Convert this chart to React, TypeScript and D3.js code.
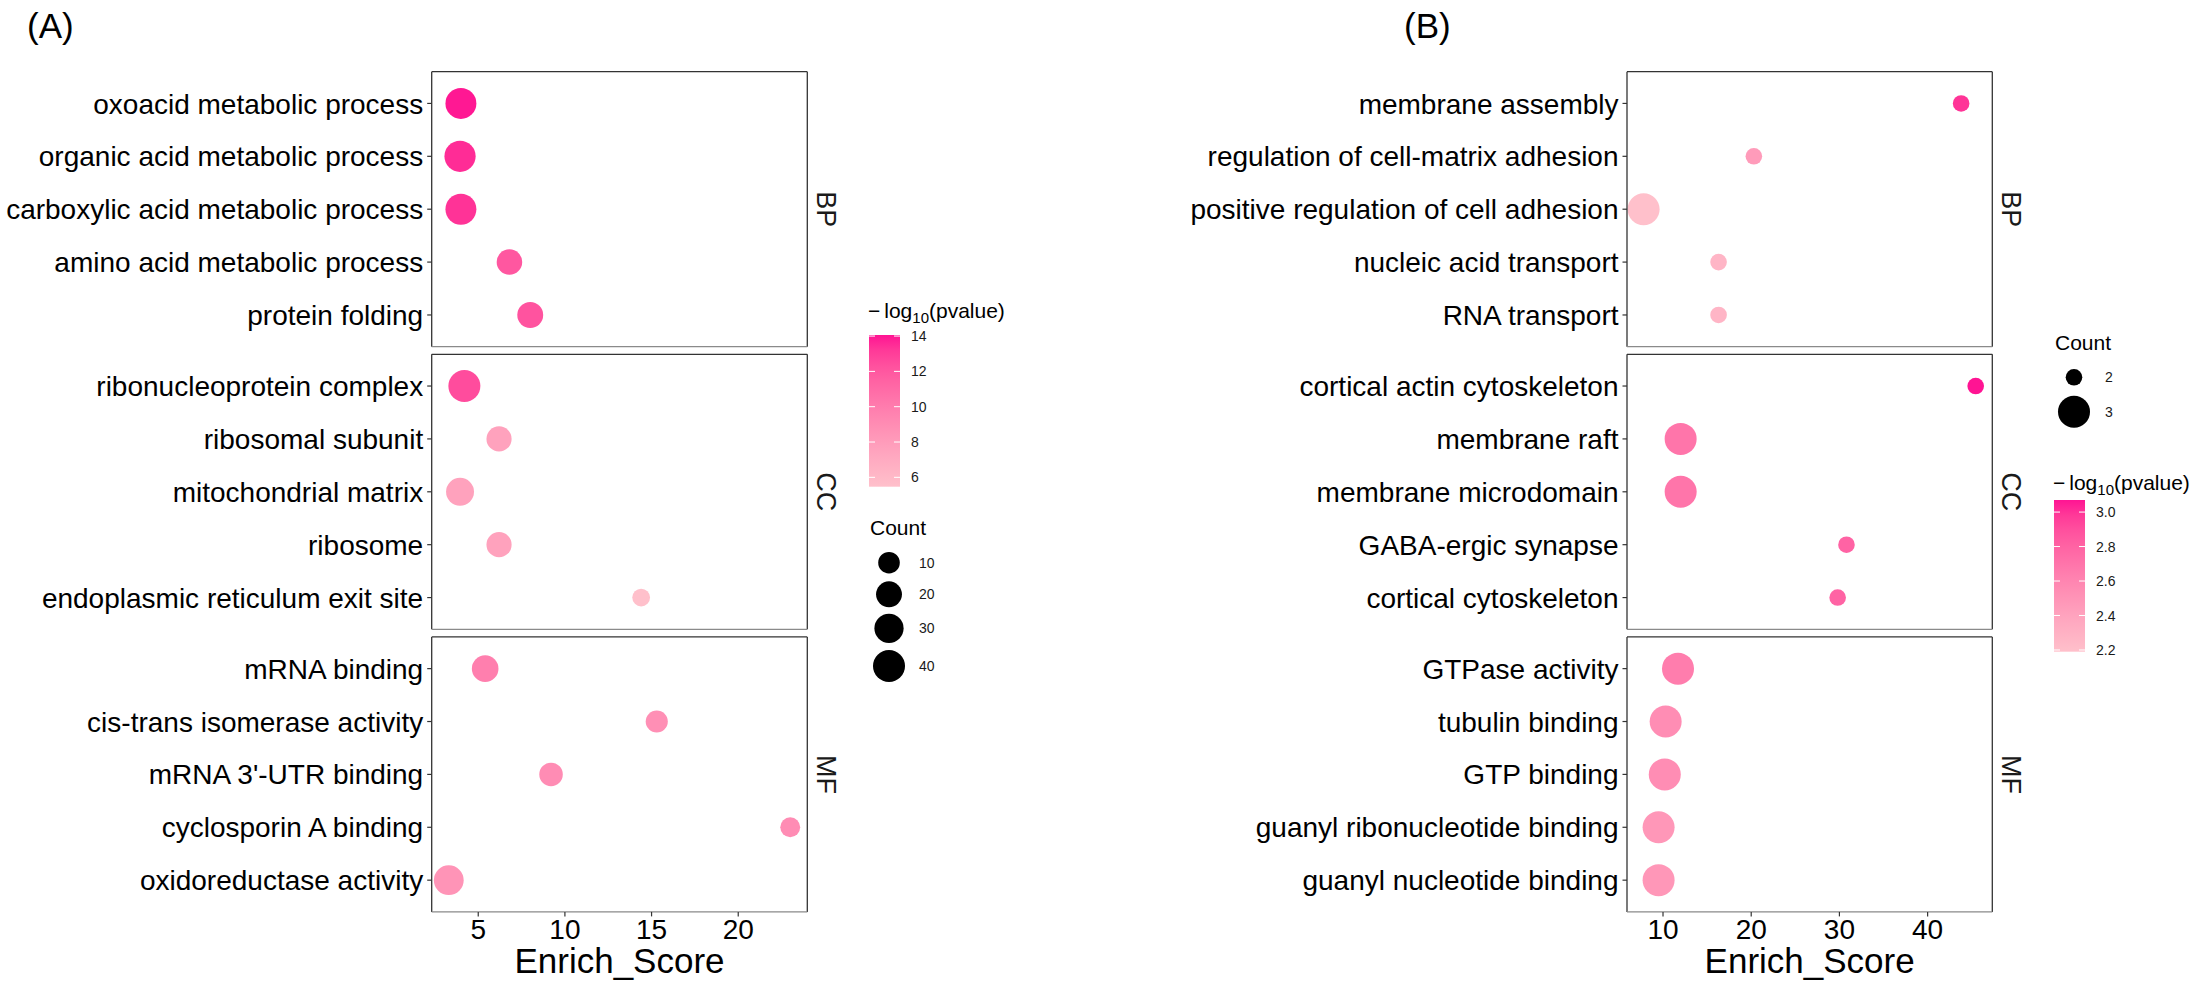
import React from 'react';
import * as d3 from 'd3';

const FACETS = ['BP', 'CC', 'MF'];

// ---------- Panel A data ----------
const A_TERMS = [
  'oxoacid metabolic process', 'organic acid metabolic process', 'carboxylic acid metabolic process',
  'amino acid metabolic process', 'protein folding',
  'ribonucleoprotein complex', 'ribosomal subunit', 'mitochondrial matrix', 'ribosome',
  'endoplasmic reticulum exit site',
  'mRNA binding', 'cis-trans isomerase activity', "mRNA 3'-UTR binding", 'cyclosporin A binding',
  'oxidoreductase activity',
];
const A_CATEGORY = ['BP', 'BP', 'BP', 'BP', 'BP', 'CC', 'CC', 'CC', 'CC', 'CC', 'MF', 'MF', 'MF', 'MF', 'MF'];
const A_ENRICH = [4.0, 3.95, 4.0, 6.8, 8.0, 4.2, 6.2, 3.95, 6.2, 14.4, 5.4, 15.3, 9.2, 23.0, 3.3];
const A_COUNT = [36, 37, 36, 19, 20, 40, 18, 26, 18, 4, 22, 11, 14, 7, 32];
const A_LOGP = [14.0, 13.6, 13.4, 12.0, 12.2, 12.5, 7.6, 7.6, 7.6, 5.5, 9.8, 8.8, 9.0, 9.0, 8.5];
const A_X_TICKS = [5, 10, 15, 20];
const A_COLOR_BREAKS = [6, 8, 10, 12, 14];
const A_COLOR_LIMITS = [5.47, 14.06];
const A_SIZE_BREAKS = [10, 20, 30, 40];

// ---------- Panel B data ----------
const B_TERMS = [
  'membrane assembly', 'regulation of cell-matrix adhesion', 'positive regulation of cell adhesion',
  'nucleic acid transport', 'RNA transport',
  'cortical actin cytoskeleton', 'membrane raft', 'membrane microdomain', 'GABA-ergic synapse',
  'cortical cytoskeleton',
  'GTPase activity', 'tubulin binding', 'GTP binding', 'guanyl ribonucleotide binding',
  'guanyl nucleotide binding',
];
const B_CATEGORY = ['BP', 'BP', 'BP', 'BP', 'BP', 'CC', 'CC', 'CC', 'CC', 'CC', 'MF', 'MF', 'MF', 'MF', 'MF'];
const B_ENRICH = [43.8, 20.3, 7.8, 16.3, 16.3, 45.45, 12.0, 12.0, 30.8, 29.8, 11.7, 10.3, 10.2, 9.5, 9.5];
const B_COUNT = [2, 2, 3, 2, 2, 2, 3, 3, 2, 2, 3, 3, 3, 3, 3];
const B_LOGP = [3.0, 2.45, 2.19, 2.27, 2.27, 3.07, 2.7, 2.7, 2.8, 2.8, 2.65, 2.55, 2.55, 2.48, 2.48];
const B_X_TICKS = [10, 20, 30, 40];
const B_COLOR_BREAKS = [2.2, 2.4, 2.6, 2.8, 3.0];
const B_COLOR_LIMITS = [2.19, 3.07];
const B_SIZE_BREAKS = [2, 3];

const FONT = 'Liberation Sans, Arial, Helvetica, sans-serif';
const LOW = '#FFC0CB';
const HIGH = '#FF1493';

const TOP = 71.7;
const PANEL_H = 275;
const GAP = 7.6;

function colorScale(limits: number[]) {
  return d3.scaleLinear<string>().domain(limits).range([LOW, HIGH]).interpolate(d3.interpolateLab).clamp(true);
}

function Panel(props: any) {
  const { left, right, terms, cats, enrich, counts, logp, xTicks, colorLimits, rScale, fmt } = props;
  const ext = d3.extent(enrich as number[]) as [number, number];
  const span = ext[1] - ext[0];
  const x = d3.scaleLinear().domain([ext[0] - 0.05 * span, ext[1] + 0.05 * span]).range([left, right]);
  const col = colorScale(colorLimits);
  const bottom = TOP + 3 * PANEL_H + 2 * GAP;
  return (
    <g>
      {FACETS.map((f, fi) => {
        const top = TOP + fi * (PANEL_H + GAP);
        const idx = cats.map((c: string, i: number) => (c === f ? i : -1)).filter((i: number) => i >= 0);
        const y = d3.scalePoint<string>().domain(idx.map((i: number) => terms[i])).range([top + PANEL_H, top]).padding(0.6);
        // reverse: first term at top
        const yy = d3.scalePoint<string>().domain(idx.map((i: number) => terms[i])).range([top, top + PANEL_H]).padding(0.6);
        void y;
        return (
          <g key={f}>
            <rect x={left} y={top} width={right - left} height={PANEL_H} fill="#fff" />
            {idx.map((i: number) => (
              <g key={terms[i]}>
                <line x1={left - 4.5} x2={left} y1={yy(terms[i])} y2={yy(terms[i])} stroke="#333" strokeWidth={1.2} />
                <text x={left - 8.5} y={yy(terms[i])} dy="0.36em" textAnchor="end" fontSize={28} fontFamily={FONT} fill="#000">
                  {terms[i]}
                </text>
              </g>
            ))}
            {idx.map((i: number) => (
              <circle key={'c' + i} cx={x(enrich[i])} cy={yy(terms[i])} r={rScale(counts[i])} fill={col(logp[i])} />
            ))}
            <line x1={left} x2={left} y1={top} y2={top + PANEL_H} stroke="#333" strokeWidth={1.3} />
            <line x1={right} x2={right} y1={top} y2={top + PANEL_H} stroke="#333" strokeWidth={1.3} />
            <line x1={left} x2={right} y1={top} y2={top} stroke="#333" strokeWidth={1.3} />
            <line x1={left} x2={right} y1={top + PANEL_H} y2={top + PANEL_H} stroke="#8a8a8a" strokeWidth={1.3} />
            <text
              transform={`translate(${right + 19},${top + PANEL_H / 2}) rotate(90)`}
              textAnchor="middle" dy="0.36em" fontSize={27} fontFamily={FONT} fill="#1a1a1a"
            >
              {f}
            </text>
          </g>
        );
      })}
      {xTicks.map((t: number) => (
        <g key={'t' + t}>
          <line x1={x(t)} x2={x(t)} y1={bottom} y2={bottom + 4.5} stroke="#333" strokeWidth={1.2} />
          <text x={x(t)} y={bottom + 27} textAnchor="middle" fontSize={28} fontFamily={FONT} fill="#000">
            {fmt(t)}
          </text>
        </g>
      ))}
      <text x={(left + right) / 2} y={973} textAnchor="middle" fontSize={35} fontFamily={FONT} fill="#000">
        Enrich_Score
      </text>
    </g>
  );
}

function ColorLegend(props: any) {
  const { x0, titleY, barTop, barBottom, limits, breaks, id, fmt } = props;
  const col = colorScale(limits);
  const yb = d3.scaleLinear().domain(limits).range([barBottom, barTop]);
  const stops = d3.range(0, 1.0001, 0.1);
  const bw = 31;
  return (
    <g>
      <defs>
        <linearGradient id={id} x1="0" y1="1" x2="0" y2="0">
          {stops.map((s) => (
            <stop key={s} offset={s} stopColor={col(limits[0] + s * (limits[1] - limits[0]))} />
          ))}
        </linearGradient>
      </defs>
      <text x={x0 - 1} y={titleY} fontSize={21} fontFamily={FONT} fill="#000">
        <tspan>−</tspan>
        <tspan dx={4}>log</tspan>
        <tspan dy={5} fontSize={15}>10</tspan>
        <tspan dy={-5}>(pvalue)</tspan>
      </text>
      <rect x={x0} y={barTop} width={bw} height={barBottom - barTop} fill={`url(#${id})`} />
      {breaks.map((b: number) => (
        <g key={b}>
          <line x1={x0} x2={x0 + 6} y1={yb(b)} y2={yb(b)} stroke="#fff" strokeWidth={1} />
          <line x1={x0 + bw - 6} x2={x0 + bw} y1={yb(b)} y2={yb(b)} stroke="#fff" strokeWidth={1} />
          <text x={x0 + bw + 11} y={yb(b)} dy="0.36em" fontSize={14} fontFamily={FONT} fill="#1a1a1a">
            {fmt(b)}
          </text>
        </g>
      ))}
    </g>
  );
}

function SizeLegend(props: any) {
  const { x0, titleY, keyYs, breaks, rScale, cx, labelX } = props;
  return (
    <g>
      <text x={x0} y={titleY} fontSize={21} fontFamily={FONT} fill="#000">Count</text>
      {breaks.map((b: number, i: number) => (
        <g key={b}>
          <circle cx={cx} cy={keyYs[i]} r={rScale(b)} fill="#000" />
          <text x={labelX} y={keyYs[i]} dy="0.36em" fontSize={14} fontFamily={FONT} fill="#1a1a1a">{b}</text>
        </g>
      ))}
    </g>
  );
}

export default function App() {
  const rA = (c: number) => d3.scaleLinear().domain([Math.sqrt(10), Math.sqrt(40)]).range([10.8, 16])(Math.sqrt(c));
  const rB = (c: number) => d3.scaleLinear().domain([2, 3]).range([8.3, 16])(c);
  const fmtInt = (v: number) => String(v);
  const fmt1 = (v: number) => v.toFixed(1);
  return (
    <svg width={2199} height={988} style={{ position: 'absolute', left: 0, top: 0, background: '#fff' }}>
      <rect x={0} y={0} width={2199} height={988} fill="#fff" />
      <text x={27} y={38} fontSize={35} fontFamily={FONT} fill="#000">(A)</text>
      <text x={1404} y={38} fontSize={35} fontFamily={FONT} fill="#000">(B)</text>
      <Panel
        left={431.7} right={807.3} terms={A_TERMS} cats={A_CATEGORY} enrich={A_ENRICH}
        counts={A_COUNT} logp={A_LOGP} xTicks={A_X_TICKS} colorLimits={A_COLOR_LIMITS} rScale={rA} fmt={fmtInt}
      />
      <Panel
        left={1627} right={1992.3} terms={B_TERMS} cats={B_CATEGORY} enrich={B_ENRICH}
        counts={B_COUNT} logp={B_LOGP} xTicks={B_X_TICKS} colorLimits={B_COLOR_LIMITS} rScale={rB} fmt={fmtInt}
      />
      <ColorLegend x0={869} titleY={318} barTop={335} barBottom={486.7} limits={A_COLOR_LIMITS}
        breaks={A_COLOR_BREAKS} id="gradA" fmt={fmtInt} />
      <SizeLegend x0={870} titleY={535} keyYs={[562.7, 594.3, 628.3, 666]} breaks={A_SIZE_BREAKS}
        rScale={rA} cx={889} labelX={919} />
      <SizeLegend x0={2055} titleY={350} keyYs={[377.3, 411.7]} breaks={B_SIZE_BREAKS}
        rScale={rB} cx={2074} labelX={2105} />
      <ColorLegend x0={2054} titleY={490} barTop={500} barBottom={651.7} limits={B_COLOR_LIMITS}
        breaks={B_COLOR_BREAKS} id="gradB" fmt={fmt1} />
    </svg>
  );
}
